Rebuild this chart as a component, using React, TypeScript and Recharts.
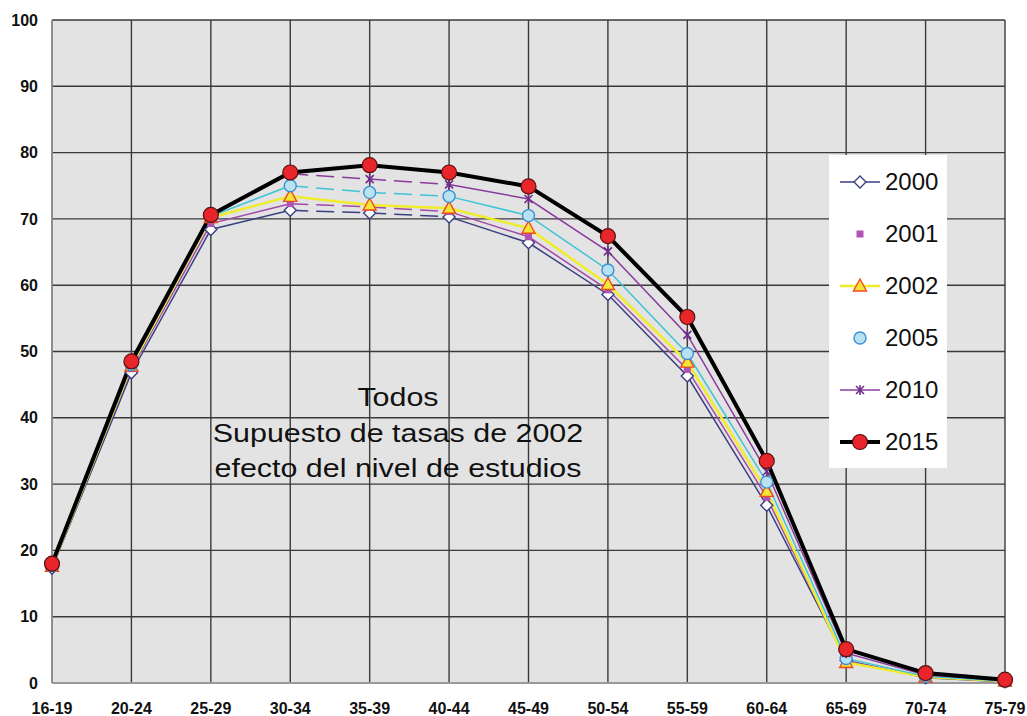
import React from 'react';
import { LineChart, Line, XAxis, YAxis, CartesianGrid } from 'recharts';

const ages = ['16-19', '20-24', '25-29', '30-34', '35-39', '40-44', '45-49', '50-54', '55-59', '60-64', '65-69', '70-74', '75-79'];
const s2000 = [17.3, 46.8, 68.4, 71.3, 70.9, 70.3, 66.4, 58.6, 46.3, 26.8, 3.4, 0.8, 0.2];
const s2001 = [17.5, 47.4, 69.3, 72.3, 71.8, 71.1, 67.3, 59.3, 47.3, 28.0, 3.3, 0.9, 0.2];
const s2002 = [17.6, 47.8, 70.2, 73.4, 72.1, 71.6, 68.6, 60.1, 48.4, 28.9, 3.1, 0.9, 0.3];
const s2005 = [17.7, 48.0, 70.4, 75.0, 74.0, 73.4, 70.5, 62.3, 49.7, 30.3, 3.7, 1.0, 0.3];
const s2010 = [17.8, 48.2, 70.5, 76.8, 76.0, 75.2, 73.0, 65.1, 52.5, 31.9, 4.5, 1.2, 0.4];
const s2015 = [18.0, 48.5, 70.6, 77.0, 78.1, 77.0, 74.9, 67.4, 55.2, 33.5, 5.1, 1.5, 0.5];
const yTicks = [0, 10, 20, 30, 40, 50, 60, 70, 80, 90, 100];
const titleLines = ['Todos', 'Supuesto de tasas de 2002', 'efecto del nivel de estudios'];

// the flat stretch 30-34 .. 40-44 is drawn dashed for the thin series
const DASH_FROM = 3;
const DASH_TO = 5;

const seriesList = [
  { key: 'y2000', label: '2000', values: s2000, color: '#3a3f82', width: 1.5, dashed: true, marker: 'diamond', legendLine: true },
  { key: 'y2001', label: '2001', values: s2001, color: '#a24aa8', width: 1.5, dashed: true, marker: 'square', legendLine: false },
  { key: 'y2002', label: '2002', values: s2002, color: '#f0ec2c', width: 2.5, dashed: false, marker: 'triangle', legendLine: true },
  { key: 'y2005', label: '2005', values: s2005, color: '#3fc3d6', width: 1.5, dashed: true, marker: 'circle', legendLine: false },
  { key: 'y2010', label: '2010', values: s2010, color: '#8a3c9e', width: 1.5, dashed: true, marker: 'star', legendLine: true },
  { key: 'y2015', label: '2015', values: s2015, color: '#000000', width: 4, dashed: false, marker: 'big', legendLine: true },
];

const data = ages.map((age, i) => {
  const row: Record<string, any> = { age };
  seriesList.forEach((s) => {
    const v = s.values[i];
    row[s.key] = v;
    if (s.dashed) {
      row[s.key + '_solid'] = i > DASH_FROM && i < DASH_TO ? null : v;
      row[s.key + '_dash'] = i >= DASH_FROM && i <= DASH_TO ? v : null;
    }
  });
  return row;
});

const drawMarker = (type: string, cx: number, cy: number, key?: any) => {
  switch (type) {
    case 'diamond':
      return <path key={key} d={`M${cx},${cy - 6}L${cx + 6},${cy}L${cx},${cy + 6}L${cx - 6},${cy}Z`} fill="#ffffff" stroke="#3a3f82" strokeWidth={1.4} />;
    case 'square':
      return <rect key={key} x={cx - 3.5} y={cy - 3.5} width={7} height={7} fill="#b055b4" />;
    case 'triangle':
      return <path key={key} d={`M${cx},${cy - 7}L${cx + 6.5},${cy + 5}L${cx - 6.5},${cy + 5}Z`} fill="#f3e63a" stroke="#f04a1c" strokeWidth={1.4} />;
    case 'circle':
      return <circle key={key} cx={cx} cy={cy} r={6} fill="#b7e2ef" stroke="#3f8fd6" strokeWidth={1.4} />;
    case 'star':
      return (
        <g key={key} stroke="#6c2d86" strokeWidth={1.6}>
          <line x1={cx - 4} y1={cy - 4} x2={cx + 4} y2={cy + 4} />
          <line x1={cx - 4} y1={cy + 4} x2={cx + 4} y2={cy - 4} />
          <line x1={cx} y1={cy - 5} x2={cx} y2={cy + 5} />
        </g>
      );
    default:
      return <circle key={key} cx={cx} cy={cy} r={7.5} fill="#e8252a" stroke="#5a1010" strokeWidth={1.2} />;
  }
};

const markerDot = (type: string) => (p: any) => {
  if (p.cx == null || p.cy == null || p.value == null) return <g key={p.index} />;
  return drawMarker(type, p.cx, p.cy, p.index);
};

const Legend2 = () => (
  <div
    style={{
      position: 'absolute', left: 829, top: 155, width: 118, height: 313,
      background: '#ffffff', fontFamily: 'Arial, "Liberation Sans", sans-serif', fontSize: 24, color: '#111',
    }}
  >
    {seriesList.map((s, i) => (
      <div key={s.key} style={{ position: 'absolute', left: 8, top: 12 + i * 52, height: 30, display: 'flex', alignItems: 'center' }}>
        <svg width={46} height={30}>
          {s.legendLine && <line x1={3} y1={15} x2={43} y2={15} stroke={s.color} strokeWidth={s.width} />}
          {drawMarker(s.marker, 23, 15)}
        </svg>
        <span style={{ marginLeft: 2 }}>{s.label}</span>
      </div>
    ))}
  </div>
);

const App: React.FC = () => {
  return (
    <div style={{ position: 'absolute', left: 0, top: 0, width: 1027, height: 716, background: '#ffffff', overflow: 'hidden' }}>
      <LineChart width={1027} height={716} data={data} margin={{ top: 20, right: 22, left: 0, bottom: 0 }}>
        <CartesianGrid fill="#e3e3e3" stroke="#3a3a3a" strokeWidth={1.4} strokeOpacity={1} />
        <XAxis
          dataKey="age"
          height={33}
          interval={0}
          axisLine={{ stroke: '#999999', strokeWidth: 2 }}
          tickLine={false}
          tick={{ fill: '#111', fontSize: 16, fontWeight: 'bold', fontFamily: 'Arial, "Liberation Sans", sans-serif' }}
          tickMargin={14}
        />
        <YAxis
          width={52}
          domain={[0, 100]}
          ticks={yTicks}
          interval={0}
          axisLine={{ stroke: '#999999', strokeWidth: 1.5 }}
          tickLine={false}
          tickSize={6}
          tickMargin={8}
          tick={{ fill: '#111', fontSize: 16, fontWeight: 'bold', fontFamily: 'Arial, "Liberation Sans", sans-serif' }}
        />
        {seriesList.map((s) =>
          s.dashed
            ? [
                <Line key={s.key + 's'} dataKey={s.key + '_solid'} stroke={s.color} strokeWidth={s.width} dot={false} activeDot={false} isAnimationActive={false} />,
                <Line key={s.key + 'd'} dataKey={s.key + '_dash'} stroke={s.color} strokeWidth={s.width} strokeDasharray="18 8" dot={false} activeDot={false} isAnimationActive={false} />,
              ]
            : <Line key={s.key + 'l'} dataKey={s.key} stroke={s.color} strokeWidth={s.width} dot={false} activeDot={false} isAnimationActive={false} />
        )}
        {seriesList.map((s) => (
          <Line key={s.key + 'm'} dataKey={s.key} stroke="none" dot={markerDot(s.marker)} activeDot={false} isAnimationActive={false} />
        ))}
      </LineChart>
      <div
        style={{
          position: 'absolute', left: 148, top: 380, width: 500, textAlign: 'center',
          fontFamily: 'Arial, "Liberation Sans", sans-serif', fontSize: 26, lineHeight: '35.5px', color: '#111',
          transform: 'scaleX(1.17)', transformOrigin: '250px 0',
        }}
      >
        {titleLines.map((t) => (
          <div key={t}>{t}</div>
        ))}
      </div>
      <Legend2 />
    </div>
  );
};

export default App;
